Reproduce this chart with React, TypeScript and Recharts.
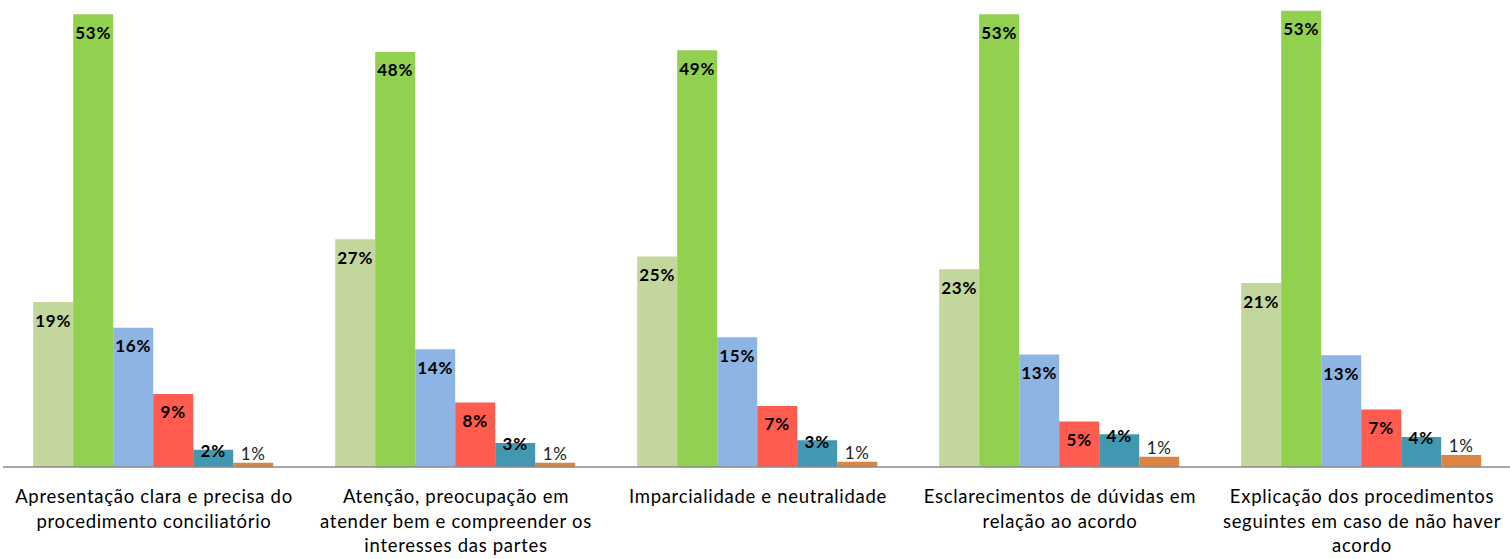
import { BarChart, Bar, XAxis, YAxis, LabelList } from "recharts";

const categories = [
  "Apresentação clara e precisa do\nprocedimento conciliatório",
  "Atenção, preocupação em\natender bem e compreender os\ninteresses das partes",
  "Imparcialidade e neutralidade",
  "Esclarecimentos de dúvidas em\nrelação ao acordo",
  "Explicação dos procedimentos\nseguintes em caso de não haver\nacordo",
];

// six answer levels, values in %
const s1 = [19.2, 26.5, 24.5, 23.0, 21.4];
const s2 = [52.7, 48.3, 48.5, 52.7, 53.1];
const s3 = [16.2, 13.7, 15.1, 13.1, 13.0];
const s4 = [8.5, 7.5, 7.1, 5.3, 6.7];
const s5 = [2.0, 2.8, 3.1, 3.8, 3.5];
const s6 = [0.5, 0.5, 0.6, 1.2, 1.4];

const data = categories.map((name, i) => ({
  name,
  s1: s1[i],
  s2: s2[i],
  s3: s3[i],
  s4: s4[i],
  s5: s5[i],
  s6: s6[i],
}));

const series = [
  { key: "s1", color: "#c3d69b", mode: "inside" },
  { key: "s2", color: "#92d050", mode: "inside" },
  { key: "s3", color: "#8eb4e3", mode: "inside" },
  { key: "s4", color: "#ff5b4f", mode: "inside" },
  { key: "s5", color: "#4298b0", mode: "edge" },
  { key: "s6", color: "#dd8440", mode: "above" },
];

const FONT = "Lato, 'Open Sans', sans-serif";

const makeLabel = (mode: string) => (props: any) => {
  const { x, y, width, value } = props;
  const cx = x + width / 2;
  let cy = y + 18;
  if (mode === "edge") cy = y + 1;
  if (mode === "above") cy = y - 9;
  return (
    <text
      x={cx}
      y={cy}
      textAnchor="middle"
      dominantBaseline="central"
      fontFamily={FONT}
      fontSize={17}
      fontWeight={mode === "above" ? 400 : 700}
      letterSpacing={0.8}
      fill={mode === "above" ? "#222" : "#000"}
    >
      {Math.round(value)}%
    </text>
  );
};

const CategoryTick = (props: any) => {
  const { x, y, payload } = props;
  const lines = String(payload.value).split("\n");
  return (
    <g>
      {lines.map((line, i) => (
        <text
          key={i}
          x={x}
          y={y + 28 + i * 24.5}
          textAnchor="middle"
          fontFamily={FONT}
          fontSize={18.5}
          letterSpacing={0.7}
          fill="#000"
        >
          {line}
        </text>
      ))}
    </g>
  );
};

export default function App() {
  return (
    <div style={{ position: "absolute", left: 0, top: 0, width: 1510, height: 559, overflow: "hidden", background: "#fff" }}>
      <BarChart
        width={1513}
        height={559}
        data={data}
        margin={{ top: 3, right: 0, bottom: 0, left: 3 }}
        barCategoryGap="10%"
        barGap={0}
      >
        <XAxis
          dataKey="name"
          height={92}
          interval={0}
          tickLine={false}
          axisLine={{ stroke: "#8a8a8a", strokeWidth: 1.5 }}
          tick={<CategoryTick />}
        />
        <YAxis hide domain={[0, 54]} />
        {series.map((s) => (
          <Bar key={s.key} dataKey={s.key} fill={s.color} isAnimationActive={false}>
            <LabelList dataKey={s.key} content={makeLabel(s.mode)} />
          </Bar>
        ))}
      </BarChart>
    </div>
  );
}
